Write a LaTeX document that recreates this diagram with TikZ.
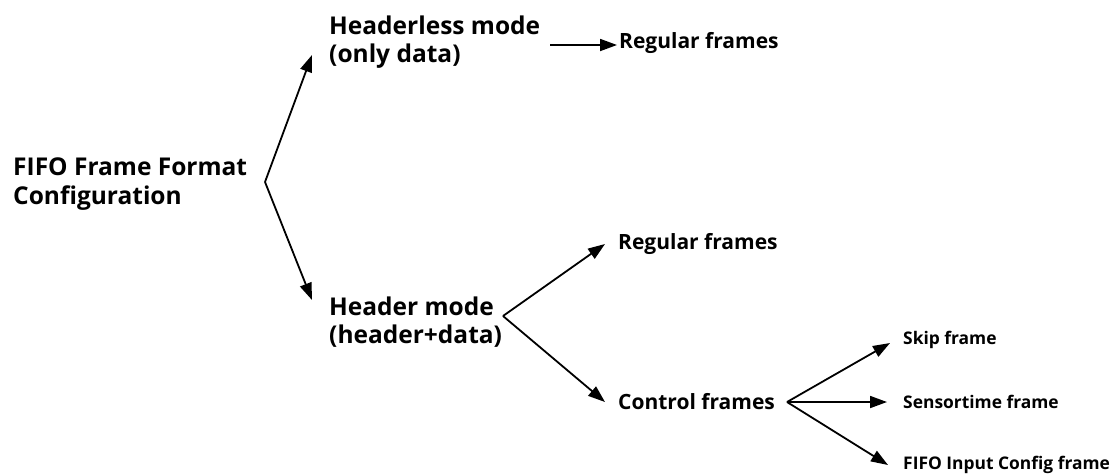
\documentclass[tikz,border=0pt]{standalone}
\usepackage{fontspec}
\setmainfont{Open Sans}
\usetikzlibrary{arrows.meta}
\begin{document}
\begin{tikzpicture}[x=1pt,y=-1pt,
  bigtxt/.style={font=\fontsize{24.5}{28.5}\selectfont\bfseries, inner sep=0pt, anchor=west, align=left},
  midtxt/.style={font=\fontsize{21}{24}\selectfont\bfseries, inner sep=0pt, anchor=west},
  smalltxt/.style={font=\fontsize{17.4}{20}\selectfont\bfseries, inner sep=0pt, anchor=west},
  arr/.style={line width=1.8pt, -{Triangle[length=17pt,width=12pt]}}]
\useasboundingbox (0,0) rectangle (1119,475);
% text nodes
\node[bigtxt] (root) at (13,184) {FIFO Frame Format\\Configuration};
\node[bigtxt] (hl) at (329,42) {Headerless mode\\(only data)};
\node[bigtxt] (hm) at (329,322) {Header mode\\(header+data)};
\node[midtxt] (rf1) at (619,43) {Regular frames};
\node[midtxt] (rf2) at (618,244) {Regular frames};
\node[midtxt] (cf) at (618,402) {Control frames};
\node[smalltxt] (sk) at (903,340) {Skip frame};
\node[smalltxt] (st) at (903,402) {Sensortime frame};
\node[smalltxt] (fi) at (903,465) {FIFO Input Config frame};
% branch points
\coordinate (ra) at (265,182);
\coordinate (hb) at (503,316);
\coordinate (cb) at (787,402);
% connectors
\draw[arr] (ra) -- ([xshift=-17pt,yshift=-13pt]hl.west);
\draw[arr] (ra) -- ([xshift=-17pt,yshift=22pt]hm.west);
\draw[arr] ([xshift=10pt,yshift=-3pt]hl.east) -- ([xshift=-2pt,yshift=-2pt]rf1.west);
\draw[arr] (hb) -- ([xshift=-13pt]rf2.west);
\draw[arr] (hb) -- ([xshift=-13pt]cf.west);
\draw[arr] (cb) -- ([xshift=-13pt,yshift=-3pt]sk.west);
\draw[arr] (cb) -- ([xshift=-16pt]st.west);
\draw[arr] (cb) -- ([xshift=-15pt]fi.west);
\end{tikzpicture}
\end{document}
